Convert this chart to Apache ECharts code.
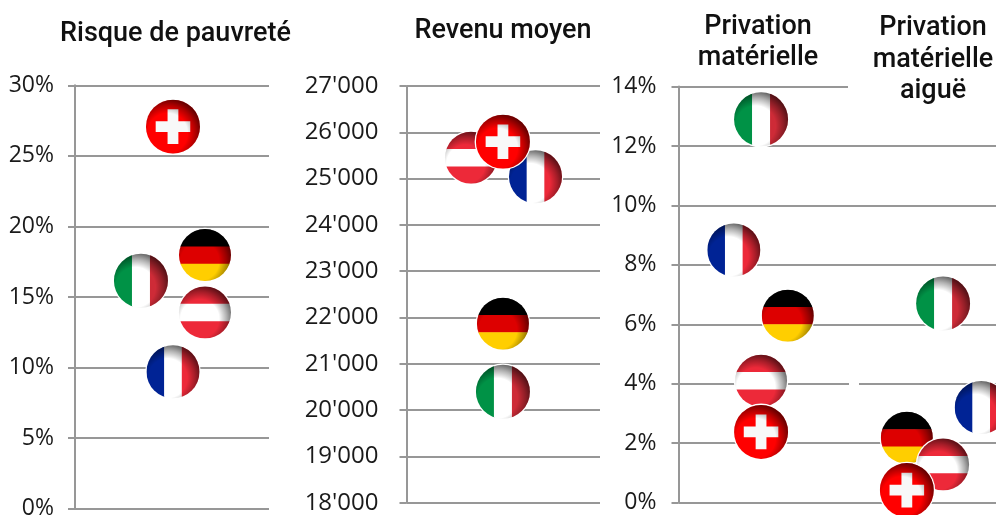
<!DOCTYPE html>
<html>
<head>
<meta charset="utf-8">
<style>html,body{margin:0;padding:0;background:#fff}#c{width:996px;height:515px}</style>
<script src="https://cdn.jsdelivr.net/npm/echarts@6/dist/echarts.min.js"></script>
</head>
<body>
<div id="c"></div>
<script>
const countries = ['Italie', 'France', 'Allemagne', 'Autriche', 'Suisse'];

const povertyValues = [16.15, 9.7, 17.97, 13.9, 27.07];
const povertySlots  = [2.04, 3.03, 4.02, 4.02, 3.03];

const incomeValues = [20397, 25041, 21866, 25451, 25797];
const incomeSlots  = [2.99, 4.0, 2.99, 2.0, 2.99];

const deprivationValues = [12.9, 8.5, 6.29, 4.1, 2.38];
const deprivationSlots  = [3.12, 2.09, 4.13, 3.12, 3.12];

const severeValues = [6.7, 3.2, 2.18, 1.28, 0.42];
const severeSlots  = [10.0, 11.44, 8.63, 10.0, 8.63];

const titles = ['Risque de pauvreté', 'Revenu moyen', 'Privation\nmatérielle', 'Privation\nmatérielle\naiguë'];

const GREY = '#979797';
const TEXT = '#1a1a1a';
const FONT = '"Open Sans", "Liberation Sans", sans-serif';

const flags = {
  Italie:    { r: 27,   v: ['#009246', '#ffffff', '#ce2b37'] },
  France:    { r: 26.5, v: ['#002395', '#ffffff', '#ed2939'] },
  Allemagne: { r: 26,   h: ['#000000', '#dd0000', '#ffce00'] },
  Autriche:  { r: 26,   h: ['#ed2939', '#ffffff', '#ed2939'] },
  Suisse:    { r: 27,   cross: true }
};

function flagChildren(name) {
  const f = flags[name], r = f.r, kids = [], d = 2 * r, t = d / 3;
  if (f.v) f.v.forEach((c, i) => kids.push({ type: 'rect', shape: { x: -r + i * t, y: -r, width: t + (i < 2 ? 0.5 : 0), height: d }, style: { fill: c } }));
  if (f.h) f.h.forEach((c, i) => kids.push({ type: 'rect', shape: { x: -r, y: -r + i * t, width: d, height: t + (i < 2 ? 0.5 : 0) }, style: { fill: c } }));
  if (f.cross) {
    kids.push({ type: 'rect', shape: { x: -r, y: -r, width: d, height: d }, style: { fill: '#ff0000' } });
    kids.push({ type: 'rect', shape: { x: -0.64 * r, y: -0.2 * r, width: 1.28 * r, height: 0.4 * r }, style: { fill: '#f8f8f8' } });
    kids.push({ type: 'rect', shape: { x: -0.2 * r, y: -0.64 * r, width: 0.4 * r, height: 1.28 * r }, style: { fill: '#f8f8f8' } });
  }
  return kids;
}

function renderFlag(params, api) {
  const p = api.coord([api.value(0), api.value(1)]);
  const name = countries[api.value(2)];
  const r = flags[name].r;
  return {
    type: 'group', x: p[0], y: p[1],
    children: [
      { type: 'circle', shape: { cx: 0, cy: 0, r: r + 1.3 }, style: { fill: '#ffffff' } },
      { type: 'group', clipPath: { type: 'circle', shape: { cx: 0, cy: 0, r: r } }, children: flagChildren(name) },
      { type: 'circle', shape: { cx: 0, cy: 0, r: r }, style: {
          fill: { type: 'radial', x: 0.4, y: 0.62, r: 0.66, colorStops: [
            { offset: 0, color: 'rgba(0,0,0,0)' },
            { offset: 0.56, color: 'rgba(0,0,0,0)' },
            { offset: 0.78, color: 'rgba(0,0,0,0.3)' },
            { offset: 1, color: 'rgba(0,0,0,0.65)' }
          ] } } }
    ]
  };
}

function rows(slots, values) { return values.map((v, i) => [slots[i], v, i]); }

const panels = [
  { left: 75, width: 194, top: 85.3, height: 423.4, min: 0, max: 30, step: 5, xMax: 6, margin: 21, size: 23, fmt: v => v + '%', data: rows(povertySlots, povertyValues) },
  { left: 406.5, width: 193.5, top: 86, height: 416.7, min: 18000, max: 27000, step: 1000, xMax: 6, margin: 28, size: 24, fmt: v => (v / 1000) + "'000", data: rows(incomeSlots, incomeValues) },
  { left: 678.5, width: 317.5, top: 86.6, height: 416, min: 0, max: 14, step: 2, xMax: 12, margin: 22, size: 23, fmt: v => v + '%', data: rows(deprivationSlots, deprivationValues).concat(rows(severeSlots, severeValues)) }
];

const titleSpots = [[175.5, 18], [503, 15], [758, 11], [933, 12.5]];

const option = {
  animation: false,
  backgroundColor: '#ffffff',
  title: titles.map((t, i) => ({
    text: t, left: titleSpots[i][0], top: titleSpots[i][1], textAlign: 'center', padding: 0,
    textStyle: { fontFamily: 'Roboto, sans-serif', fontWeight: 500, fontSize: 27, lineHeight: 31.5, color: '#111' }
  })),
  grid: panels.map(p => ({ left: p.left, width: p.width, top: p.top, height: p.height, outerBoundsMode: 'none' })),
  xAxis: panels.map((p, i) => ({ gridIndex: i, type: 'value', min: 0, max: p.xMax, show: false })),
  yAxis: panels.map((p, i) => ({
    gridIndex: i, type: 'value', min: p.min, max: p.max, interval: p.step,
    axisLine: { show: true, lineStyle: { color: GREY, width: 2 } },
    axisTick: { show: true, length: 7, lineStyle: { color: GREY, width: 2 } },
    splitLine: { show: true, lineStyle: { color: GREY, width: 2 } },
    axisLabel: { margin: p.margin, color: TEXT, fontFamily: FONT, fontSize: p.size, formatter: p.fmt, hideOverlap: false, padding: [4, 0, 0, 0] }
  })),
  series: panels.map((p, i) => ({
    type: 'custom', xAxisIndex: i, yAxisIndex: i, clip: false, z: 5, renderItem: renderFlag, data: p.data,
    encode: { x: 0, y: 1 }
  })),
  graphic: [
    { type: 'rect', z: 3, shape: { x: 848, y: 0, width: 148, height: 104 }, style: { fill: '#ffffff' } },
    { type: 'rect', z: 3, shape: { x: 849, y: 380, width: 10, height: 8 }, style: { fill: '#ffffff' } }
  ]
};

echarts.init(document.getElementById('c'), null, { renderer: 'canvas' }).setOption(option);
</script>
</body>
</html>
